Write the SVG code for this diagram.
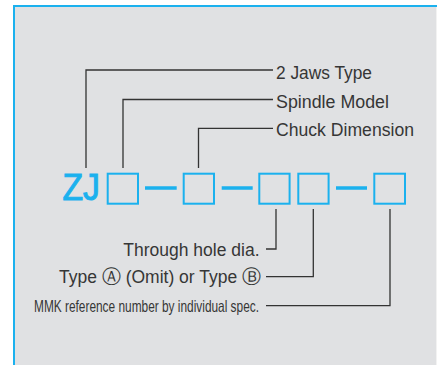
<svg xmlns="http://www.w3.org/2000/svg" width="437" height="365" viewBox="0 0 437 365">
<style>
.lbl{font-family:"Liberation Sans","DejaVu Sans",sans-serif;fill:#363636;}
.top{font-size:17.5px;}
.bot{font-size:17.5px;text-anchor:end;}
.circ{font-family:"DejaVu Sans",sans-serif;font-size:19px;}
.lead{fill:none;stroke:#333;stroke-width:1.3;}
.box{fill:none;stroke:#1bb1ee;stroke-width:2;}
.dash{stroke:#1bb1ee;stroke-width:3.5;}
</style>
<rect x="0" y="0" width="437" height="365" fill="#ffffff"/>
<rect x="14" y="6" width="440" height="380" fill="#e0e1e3" stroke="#1bb1ee" stroke-width="2"/>
<line x1="436.5" y1="7" x2="436.5" y2="365" stroke="#f2f2f2" stroke-width="1"/>
<g id="connectors">
<polyline class="lead" points="86,168 86,70 273,70"/>
<polyline class="lead" points="123,168 123,99.5 273,99.5"/>
<polyline class="lead" points="198.5,168 198.5,128.3 273,128.3"/>
<polyline class="lead" points="276,209 276,249 266,249"/>
<polyline class="lead" points="313.3,209 313.3,276.7 266,276.7"/>
<polyline class="lead" points="390,209 390,305.7 266,305.7"/>
</g>
<g id="code">
<text x="62.5" y="200" font-family="Liberation Sans, sans-serif" font-size="36" fill="#1bb1ee" stroke="#1bb1ee" stroke-width="1" textLength="37.5" lengthAdjust="spacingAndGlyphs">ZJ</text>
<rect id="box1" class="box" x="107.7" y="173.7" width="30.3" height="30"/>
<line class="dash" x1="145" y1="188" x2="176.7" y2="188"/>
<rect id="box2" class="box" x="183.7" y="173.7" width="30.3" height="30"/>
<line class="dash" x1="221.7" y1="188" x2="252.7" y2="188"/>
<rect id="box3" class="box" x="259.3" y="173.7" width="30.3" height="30"/>
<rect id="box4" class="box" x="298.3" y="173.7" width="30.3" height="30"/>
<line class="dash" x1="336" y1="188" x2="367" y2="188"/>
<rect id="box5" class="box" x="374.3" y="173.7" width="30.7" height="30"/>
</g>
<g id="label-jaws"><text class="lbl top" x="276" y="78.5" textLength="96" lengthAdjust="spacingAndGlyphs">2 Jaws Type</text></g>
<g id="label-spindle"><text class="lbl top" x="276" y="107.5" textLength="113" lengthAdjust="spacingAndGlyphs">Spindle Model</text></g>
<g id="label-chuck"><text class="lbl top" x="276" y="136.2" textLength="138" lengthAdjust="spacingAndGlyphs">Chuck Dimension</text></g>
<g id="label-through"><text class="lbl bot" x="259.5" y="255.5">Through hole dia.</text></g>
<g id="label-type"><text class="lbl bot" x="261" y="283">Type <tspan class="circ">Ⓐ</tspan> (Omit) or Type <tspan class="circ">Ⓑ</tspan></text></g>
<g id="label-mmk"><text class="lbl" x="34" y="312" font-size="16.5" textLength="225" lengthAdjust="spacingAndGlyphs">MMK reference number by individual spec.</text></g>
</svg>
